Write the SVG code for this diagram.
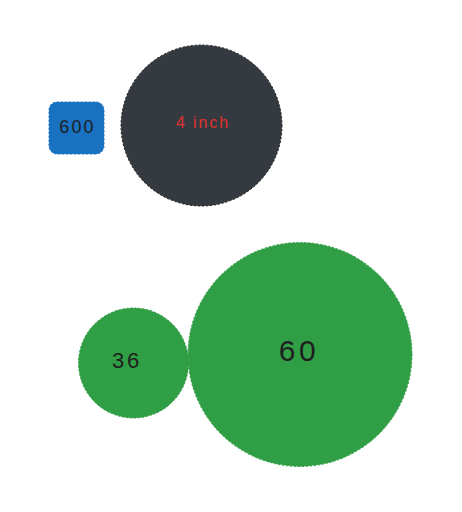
<svg xmlns="http://www.w3.org/2000/svg" width="462" height="512" viewBox="0 0 462 512">
<style>
.lbl{font-family:"Liberation Sans","DejaVu Sans",sans-serif;text-anchor:middle;dominant-baseline:central;letter-spacing:0.12em}
.dot{stroke-width:1;stroke-dasharray:1.5 2.5;stroke-linecap:round}
</style>
<rect width="462" height="512" fill="#ffffff"/>
<g id="connectors"></g>
<g id="node-600">
<rect x="49" y="102" width="55" height="52" rx="8" fill="#1971c2" class="dot" stroke="#1971c2"/>
<text x="77.5" y="127" class="lbl" font-size="18" fill="#1e1e1e">600</text>
</g>
<g id="node-4inch">
<circle cx="201.5" cy="125.5" r="80.5" fill="#343a40" class="dot" stroke="#1e1e1e"/>
<text x="203" y="122" class="lbl" font-size="16" fill="#e03131">4 inch</text>
</g>
<g id="node-36">
<circle cx="133.5" cy="363" r="55" fill="#2f9e44" class="dot" stroke="#2f9e44"/>
<text x="127" y="360" class="lbl" font-size="22" fill="#1e1e1e">36</text>
</g>
<g id="node-60">
<circle cx="300" cy="354.5" r="112" fill="#2f9e44" class="dot" stroke="#2f9e44"/>
<text x="299" y="350" class="lbl" font-size="30" fill="#1e1e1e">60</text>
</g>
</svg>
